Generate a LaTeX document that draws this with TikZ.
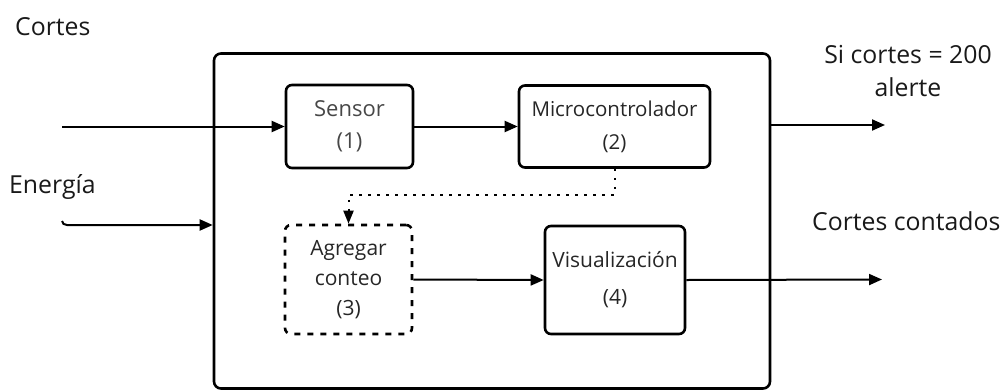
\documentclass[tikz,border=0pt]{standalone}
\usepackage{fontspec}
\setmainfont{Open Sans}
\usetikzlibrary{arrows.meta,calc}

\tikzset{
  block/.style={draw=black, line width=2.6pt, rounded corners=6pt, align=center,
    inner sep=0pt, text=black!85, font=\fontsize{21}{31}\selectfont},
  dashblock/.style={block, dash pattern=on 6pt off 7pt},
  flow/.style={line width=2pt, -{Triangle[length=13pt,width=11pt]}},
  dotflow/.style={line width=2pt, dash pattern=on 2.5pt off 6.5pt, -{Triangle[length=13pt,width=10pt]}},
  lbl/.style={text=black!90, font=\fontsize{24.8}{33}\selectfont, align=center, inner sep=0pt}
}

\begin{document}
\begin{tikzpicture}[x=1pt,y=-1pt]
  \useasboundingbox (0,0) rectangle (1008,391);

  % enclosing system box
  \node[draw=black, line width=2.6pt, rounded corners=7pt, minimum width=556pt,
        minimum height=335pt, inner sep=0pt] (sys) at (492,221) {};

  % internal blocks
  \node[block, minimum width=127pt, minimum height=83pt, text=black!72,
        font=\fontsize{22}{32}\selectfont] (sensor) at (349.5,126.5)
    {Sensor\\(1)};
  \node[block, minimum width=191pt, minimum height=82pt,
        font=\fontsize{20.5}{33}\selectfont] (micro) at (614.5,126.5)
    {Microcontrolador\\(2)};
  \node[dashblock, minimum width=127pt, minimum height=109pt,
        font=\fontsize{21}{30}\selectfont] (count) at (348.5,279.5)
    {Agregar\\conteo\\(3)};
  \node[block, minimum width=140pt, minimum height=108pt,
        font=\fontsize{21}{37}\selectfont] (disp) at (615,280)
    {Visualización\\(4)};

  % outside labels
  \node[lbl, anchor=west] (lcortes) at (15,27) {Cortes};
  \node[lbl, anchor=west] (lenergia) at (9,187) {Energía};
  \node[lbl] (lalerta) at (908,71) {Si cortes = 200\\alerte};
  \node[lbl, anchor=west] (lcontados) at (812,221) {Cortes contados};

  % free ends of the connectors
  \coordinate (inCortes) at (62,126.5);
  \coordinate (inEnergia) at (62,221);
  \coordinate (outAlerta) at (885,125);
  \coordinate (outConteo) at (882,279.5);

  % connectors
  \draw[flow] (inCortes) -- (sensor.west);
  \draw[flow] (sensor.east) -- (micro.west);
  \draw[flow] (inEnergia) to[out=-90,in=180] ($(inEnergia)+(5,4)$) -- (sys.west |- 0,225);
  \draw[dotflow] (micro.south) |- (count.north |- 0,195) -- (count.north);
  \draw[flow] (count.east) -- (disp.west);
  \draw[flow] (sys.east |- outAlerta) -- (outAlerta);
  \draw[flow] (disp.east) -- (outConteo);
\end{tikzpicture}
\end{document}
